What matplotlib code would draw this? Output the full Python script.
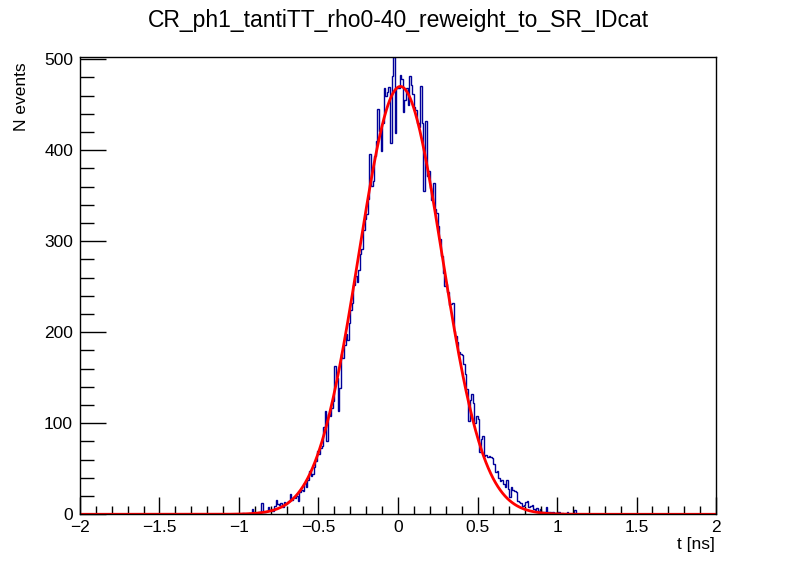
import numpy as np
import matplotlib
matplotlib.use("Agg")
import matplotlib.pyplot as plt
from matplotlib.ticker import MultipleLocator

plt.rcParams['font.family'] = ['Liberation Sans', 'DejaVu Sans']

title = "CR_ph1_tantiTT_rho0-40_reweight_to_SR_IDcat"
x_label = "t [ns]"
y_label = "N events"

# histogram: 400 bins from -2 to 2 ns; non-empty bins start at -1.00
n_bins = 400
x_min, x_max = -2.0, 2.0
core_start = -1.00
counts_core = [
    0, 0, 1, 0, 0, 0, 1, 0, 6, 2,
    1, 0, 3, 2, 12, 3, 2, 4, 8, 5,
    6, 4, 9, 16, 11, 10, 12, 8, 14, 11,
    13, 15, 22, 16, 19, 18, 20, 15, 24, 27,
    26, 34, 30, 38, 48, 42, 44, 52, 59, 70,
    66, 73, 75, 96, 114, 80, 110, 108, 117, 124,
    163, 150, 114, 139, 176, 172, 186, 198, 192, 210,
    224, 232, 252, 262, 255, 268, 286, 291, 312, 324,
    330, 346, 396, 361, 366, 394, 410, 445, 421, 399,
    430, 468, 460, 464, 469, 408, 481, 502, 419, 468,
    468, 483, 478, 442, 455, 468, 450, 481, 472, 462,
    447, 444, 430, 425, 470, 430, 355, 432, 372, 377,
    358, 345, 364, 335, 331, 317, 302, 284, 265, 251,
    253, 244, 230, 231, 232, 201, 196, 189, 178, 176,
    175, 165, 154, 138, 103, 125, 132, 122, 100, 108,
    105, 68, 83, 86, 64, 65, 63, 64, 63, 62,
    55, 46, 48, 40, 37, 38, 33, 30, 38, 28,
    19, 30, 27, 26, 24, 15, 14, 12, 9, 10,
    13, 15, 8, 9, 10, 6, 5, 7, 4, 6,
    3, 3, 2, 8, 2, 3, 1, 3, 0, 1,
    3, 3, 0, 1, 0, 0, 2, 0, 0, 0, 0, 5, 0,
]

# Gaussian fit parameters (constant, mean, sigma)
fit_const = 470.0
fit_mean = 0.015
fit_sigma = 0.262

y_max = 502

edges = np.linspace(x_min, x_max, n_bins + 1)
counts = np.zeros(n_bins)
start_idx = int(round((core_start - x_min) / ((x_max - x_min) / n_bins)))
counts[start_idx:start_idx + len(counts_core)] = counts_core

fig = plt.figure(figsize=(7.96, 5.72), dpi=100)
ax = fig.add_axes([0.1005, 0.1009, 0.799, 0.7989])

ax.stairs(counts, edges, color='#000099', lw=1.0, baseline=None)
xf = np.linspace(x_min, x_max, 800)
yf = fit_const * np.exp(-0.5 * ((xf - fit_mean) / fit_sigma) ** 2)
ax.plot(xf, yf, color='#ff0000', lw=2.0)

ax.set_xlim(x_min, x_max)
ax.set_ylim(0, y_max)

ax.xaxis.set_major_locator(MultipleLocator(0.5))
ax.xaxis.set_minor_locator(MultipleLocator(0.1))
ax.yaxis.set_major_locator(MultipleLocator(100))
ax.yaxis.set_minor_locator(MultipleLocator(20))

def fmt(v, pos=None):
    s = ('%g' % v)
    if abs(v) < 1e-9:
        s = '0'
    return s.replace('-', '\u2212')
ax.xaxis.set_major_formatter(plt.FuncFormatter(fmt))
ax.yaxis.set_major_formatter(plt.FuncFormatter(fmt))

ax.tick_params(axis='both', which='both', direction='in', top=False, right=False,
               labelsize=12.5, width=1, color='black')
ax.tick_params(axis='y', which='major', length=19, pad=5)
ax.tick_params(axis='y', which='minor', length=10)
ax.tick_params(axis='x', which='major', length=12, pad=4)
ax.tick_params(axis='x', which='minor', length=6)
for sp in ax.spines.values():
    sp.set_linewidth(1.0)

fig.text(0.5, 1 - 26.7 / 572, title, ha='center', va='baseline', fontsize=16.5)
fig.text(21 / 796, 1 - 62 / 572, y_label, rotation=90, ha='center', va='top', fontsize=12.5)
fig.text(715 / 796, 1 - 545 / 572, x_label, ha='right', va='center', fontsize=12.5)

fig.savefig('out.png', dpi=100)
